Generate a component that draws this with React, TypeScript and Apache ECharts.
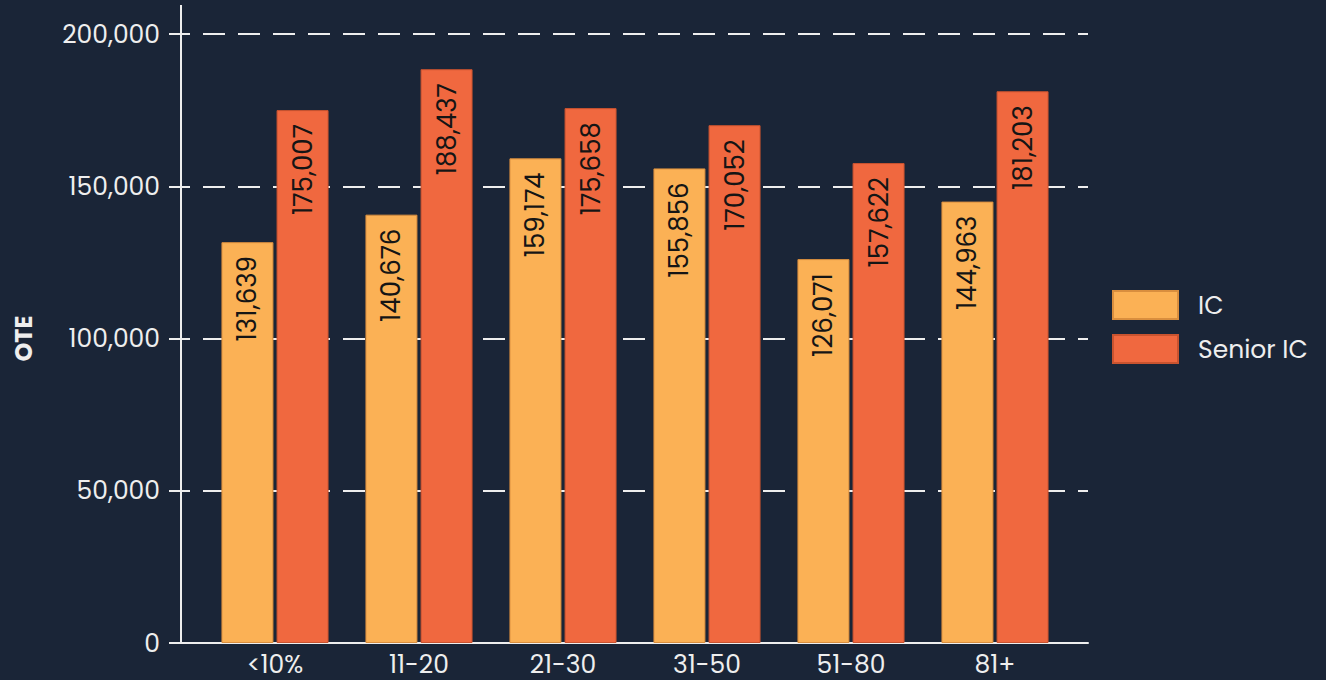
import React, { useEffect, useRef } from "react";
import * as echarts from "echarts";

const categories = ["<10%", "11-20", "21-30", "31-50", "51-80", "81+"];
const icValues = [131639, 140676, 159174, 155856, 126071, 144963];
const seniorValues = [175007, 188437, 175658, 170052, 157622, 181203];
const seriesNames = ["IC", "Senior IC"];
const yTicks = { min: 0, max: 200000, interval: 50000 };

const BG = "#1a2537";
const FG = "#eeeeee";
const FONT = "Poppins, Inter, 'Noto Sans', sans-serif";

export default function App() {
  const ref = useRef<HTMLDivElement>(null);
  useEffect(() => {
    document.body.style.margin = "0";
    document.body.style.background = BG;
    if (!ref.current) return;
    const chart = echarts.init(ref.current, null, { renderer: "svg" });
    const fmt = (v: number) => v.toLocaleString("en-US");
    const barLabel = {
      show: true,
      position: "insideTop",
      rotate: 90,
      align: "right",
      verticalAlign: "middle",
      distance: 14,
      color: "#151515",
      fontSize: 26,
      fontFamily: FONT,
      formatter: (p: any) => fmt(p.value),
    };
    chart.setOption({
      animation: false,
      backgroundColor: BG,
      textStyle: { fontFamily: FONT },
      grid: [
        { left: 203, right: 259, top: 34, bottom: 37 },
        { left: 181, right: 238, top: 34, bottom: 37 },
      ],
      legend: {
        orient: "vertical",
        left: 1112,
        top: 290,
        padding: 0,
        icon: "rect",
        itemWidth: 65,
        itemHeight: 28,
        itemGap: 14,
        data: seriesNames,
        textStyle: { color: FG, fontSize: 25, fontFamily: FONT, padding: [0, 0, 0, 15] },
      },
      xAxis: [
        {
          type: "category",
          gridIndex: 0,
          data: categories,
          axisLine: { show: false },
          axisTick: { show: false },
          axisLabel: { color: FG, fontSize: 25, margin: 9, fontFamily: FONT },
        },
        {
          type: "value",
          gridIndex: 1,
          min: 0,
          max: 1,
          axisLine: { show: true, lineStyle: { color: FG, width: 2 } },
          axisTick: { show: false },
          axisLabel: { show: false },
          splitLine: { show: false },
        },
      ],
      yAxis: [
        {
          type: "value",
          gridIndex: 0,
          ...yTicks,
          show: false,
          splitLine: { show: false },
        },
        {
          type: "value",
          gridIndex: 1,
          ...yTicks,
          name: "OTE",
          nameLocation: "middle",
          nameGap: 146,
          nameTextStyle: { color: FG, fontSize: 24, fontWeight: "bold", fontFamily: FONT },
          axisLine: { show: true, lineStyle: { color: FG, width: 2 } },
          axisTick: { show: true, length: 12, lineStyle: { color: FG, width: 2 } },
          axisLabel: { color: FG, fontSize: 25, margin: 21, fontFamily: FONT, formatter: (v: number) => fmt(v) },
          splitLine: { show: true, lineStyle: { color: FG, width: 2, type: [22, 13], dashOffset: -22 } },
        },
      ],
      series: [
        {
          name: seriesNames[0],
          type: "bar",
          xAxisIndex: 0,
          yAxisIndex: 0,
          data: icValues,
          barWidth: 52,
          barGap: "6%",
          itemStyle: { color: "#fbb155", borderColor: "#d98e3e", borderWidth: 1 },
          label: barLabel,
        },
        {
          name: seriesNames[1],
          type: "bar",
          xAxisIndex: 0,
          yAxisIndex: 0,
          data: seniorValues,
          barWidth: 52,
          barGap: "6%",
          itemStyle: { color: "#f0683f", borderColor: "#c9532f", borderWidth: 1 },
          label: barLabel,
        },
      ],
      graphic: [
        {
          type: "line",
          shape: { x1: 181, y1: 5, x2: 181, y2: 34 },
          style: { stroke: FG, lineWidth: 2 },
        },
      ],
    });
    return () => chart.dispose();
  }, []);
  return <div ref={ref} style={{ width: 1326, height: 680 }} />;
}
